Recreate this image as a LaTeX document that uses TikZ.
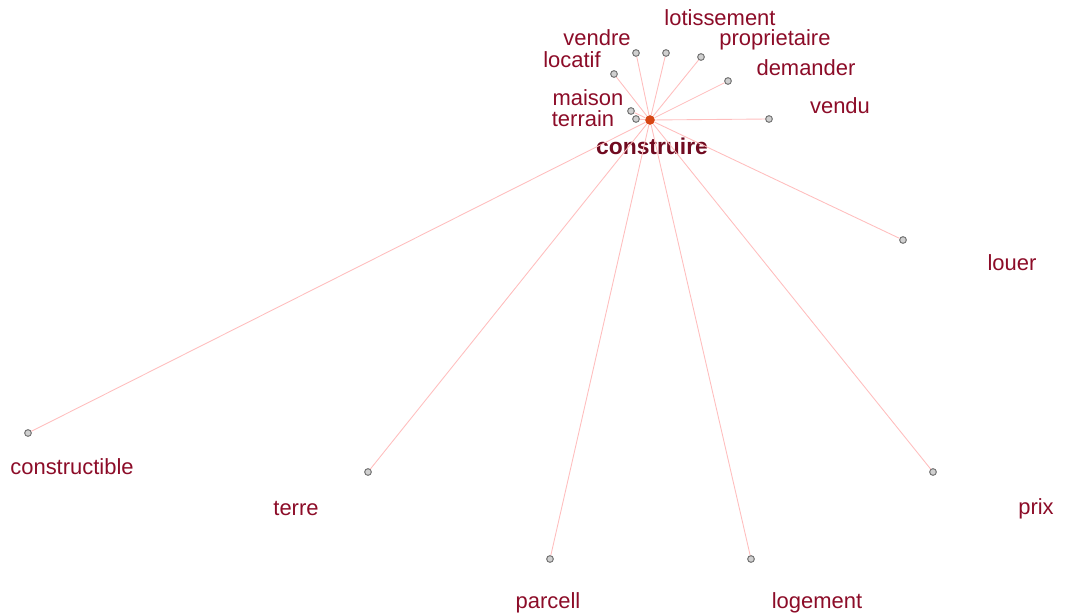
\documentclass[tikz,border=0pt]{standalone}
\usepackage{fontspec}
\setmainfont{Liberation Sans}

\begin{document}
\begin{tikzpicture}[x=0.02cm,y=-0.02cm]
\definecolor{wordcolor}{RGB}{140,12,40}
\definecolor{edgecolor}{RGB}{255,190,190}
\definecolor{dotcolor}{RGB}{120,120,120}
\definecolor{hubcolor}{RGB}{215,70,20}
\tikzset{
  leafdot/.style={circle,draw=dotcolor,fill=dotcolor!35,line width=0.6pt,inner sep=0pt,minimum size=3.8pt},
  hubdot/.style={circle,fill=hubcolor,inner sep=0pt,minimum size=5.5pt},
  word/.style={text=wordcolor,font=\fontsize{12.5}{15}\selectfont,inner sep=0pt},
  link/.style={edgecolor,line width=0.5pt}
}
\useasboundingbox (0,0) rectangle (1066,615);

% hub
\node[hubdot] (hub) at (650,120) {};
\node[word,font=\fontsize{13}{15}\selectfont\bfseries,text=wordcolor!80!black] (hublabel) at (652,146) {construire};

% neighbours: name / dot / label position / text
\foreach \nm/\dx/\dy/\lx/\ly/\txt in {
  vendre/636/53/597/38/vendre,
  lotissement/666/53/720/18/lotissement,
  proprietaire/701/57/775/40/proprietaire,
  locatif/614/74/572/60/locatif,
  demander/728/81/806/68/demander,
  maison/631/111/588/98/maison,
  terrain/636/119/583/119/terrain,
  vendu/769/119/840/106/vendu,
  louer/903/240/1012/263/louer,
  constructible/28/433/72/467/constructible,
  terre/368/472/296/509/terre,
  parcell/550/559/548/603/parcell,
  logement/751/559/817/603/logement,
  prix/933/472/1036/509/prix}{
  \node[leafdot] (\nm) at (\dx,\dy) {};
  \node[word] (\nm-label) at (\lx,\ly) {\txt};
  \draw[link] (hub) -- (\nm);
}
\end{tikzpicture}
\end{document}
